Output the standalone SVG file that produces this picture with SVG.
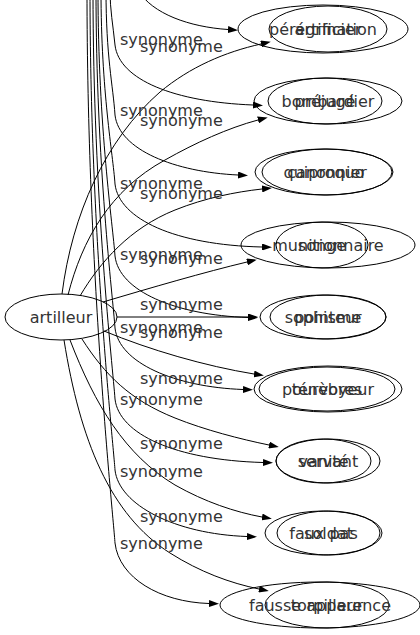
<svg xmlns="http://www.w3.org/2000/svg" width="420" height="635" viewBox="0 0 420 635">
<style>
  text { font-family: "DejaVu Sans", "Liberation Sans", sans-serif; font-size: 16px; fill: #333; }
  .n text { text-anchor: middle; }
  .n ellipse { fill: none; stroke: #000; stroke-width: 1; }
  .e path { fill: none; stroke: #000; stroke-width: 1; marker-end: url(#arr); }
</style>
<defs>
  <marker id="arr" markerUnits="userSpaceOnUse" markerWidth="10" markerHeight="7" refX="0" refY="3.5" orient="auto">
    <path d="M0,0 L10,3.5 L0,7 z" fill="#000"/>
  </marker>
</defs>
<rect width="420" height="635" fill="#fff"/>
<g id="connectors" class="e">
  <path d="M 62,294 C 72,215 105,140 160,92 C 190,67 225,52 261,44"/>
  <path d="M 68,295 C 82,240 110,190 165,160 C 195,143 228,128 258,120"/>
  <path d="M 80,296 C 100,262 130,228 175,210 C 205,198 235,192 262,189"/>
  <path d="M 103,302 C 150,288 205,272 247,262"/>
  <path d="M 117,317 L 248,317"/>
  <path d="M 104,331 C 150,350 205,366 254,374"/>
  <path d="M 82,339 C 105,375 130,400 175,418 C 205,430 240,439 269,445"/>
  <path d="M 70,340 C 95,405 125,455 175,485 C 205,502 235,512 262,517"/>
  <path d="M 64,340 C 80,440 110,515 170,553 C 200,572 230,583 259,589"/>
  <path d="M 138,-10 C 152,14 190,27 228,29.5"/>
  <path d="M 110,-10 C 110,10 113,25 115,45 C 119,80 175,102 253,105"/>
  <path d="M 106,-10 C 106,57 113,85 115,115 C 119,150 175,172 238,175"/>
  <path d="M 101,-10 C 101,92 113,154 115,184 C 119,219 175,245 262,247"/>
  <path d="M 98,-10 C 98,128 113,226 115,256 C 119,291 175,315 248,317.5"/>
  <path d="M 96,-10 C 96,164 113,298 115,328 C 119,363 175,387 243,389.5"/>
  <path d="M 93,-10 C 93,200 113,369 115,399 C 119,434 175,460 263,462.5"/>
  <path d="M 90,-10 C 90,235 113,440 115,470 C 119,505 175,534 247,536.5"/>
  <path d="M 87,-10 C 87,272 113,513 115,543 C 119,578 160,602 209,603.5"/>
</g>
<g id="edge-labels">
  <text x="140" y="52">synonyme</text>
  <text x="140" y="126">synonyme</text>
  <text x="140" y="199">synonyme</text>
  <text x="140" y="264">synonyme</text>
  <text x="140" y="310">synonyme</text>
  <text x="140" y="338">synonyme</text>
  <text x="140" y="384">synonyme</text>
  <text x="140" y="449">synonyme</text>
  <text x="140" y="522">synonyme</text>
  <text x="120" y="45">synonyme</text>
  <text x="120" y="116">synonyme</text>
  <text x="120" y="189">synonyme</text>
  <text x="120" y="260">synonyme</text>
  <text x="120" y="333">synonyme</text>
  <text x="120" y="405">synonyme</text>
  <text x="120" y="477">synonyme</text>
  <text x="120" y="549">synonyme</text>
</g>
<g id="n-artilleur" class="n"><ellipse cx="61" cy="317" rx="56" ry="23"/><text x="61" y="323">artilleur</text></g>
<g id="n-artificier" class="n"><ellipse cx="328" cy="29" rx="59" ry="23"/><text x="328" y="35">artificier</text></g>
<g id="n-bombardier" class="n"><ellipse cx="328" cy="101" rx="74" ry="23"/><text x="328" y="107">bombardier</text></g>
<g id="n-canonnier" class="n"><ellipse cx="327" cy="172" rx="65" ry="23"/><text x="327" y="178">canonnier</text></g>
<g id="n-munitionnaire" class="n"><ellipse cx="328" cy="245" rx="87" ry="23"/><text x="328" y="251">munitionnaire</text></g>
<g id="n-pointeur" class="n"><ellipse cx="328" cy="317" rx="58" ry="22"/><text x="328" y="323">pointeur</text></g>
<g id="n-pourvoyeur" class="n"><ellipse cx="328" cy="389" rx="74" ry="23"/><text x="328" y="395">pourvoyeur</text></g>
<g id="n-servant" class="n"><ellipse cx="328" cy="461" rx="52" ry="22"/><text x="328" y="467">servant</text></g>
<g id="n-soldat" class="n"><ellipse cx="328.5" cy="533" rx="51.5" ry="22"/><text x="328.5" y="539">soldat</text></g>
<g id="n-torpilleur" class="n"><ellipse cx="327" cy="605" rx="62" ry="23"/><text x="327" y="611">torpilleur</text></g>
<g id="n-peregrination" class="n"><ellipse cx="323" cy="29" rx="85" ry="24"/><text x="323" y="35">pérégrination</text></g>
<g id="n-prejuge" class="n"><ellipse cx="325" cy="101" rx="57" ry="23"/><text x="325" y="107">préjugé</text></g>
<g id="n-quiproquo" class="n"><ellipse cx="324" cy="172" rx="69" ry="23"/><text x="324" y="178">quiproquo</text></g>
<g id="n-songe" class="n"><ellipse cx="322" cy="245" rx="46" ry="23"/><text x="322" y="251">songe</text></g>
<g id="n-sophisme" class="n"><ellipse cx="323" cy="317" rx="63" ry="22"/><text x="323" y="323">sophisme</text></g>
<g id="n-tenebres" class="n"><ellipse cx="327" cy="389" rx="68" ry="22"/><text x="327" y="395">ténèbres</text></g>
<g id="n-vanite" class="n"><ellipse cx="323.5" cy="461" rx="47.5" ry="22"/><text x="323.5" y="467">vanité</text></g>
<g id="n-fauxpas" class="n"><ellipse cx="323.5" cy="533" rx="58.5" ry="22"/><text x="323.5" y="539">faux pas</text></g>
<g id="n-fausseapparence" class="n"><ellipse cx="320" cy="605" rx="100" ry="23"/><text x="320" y="611">fausse apparence</text></g>
</svg>
